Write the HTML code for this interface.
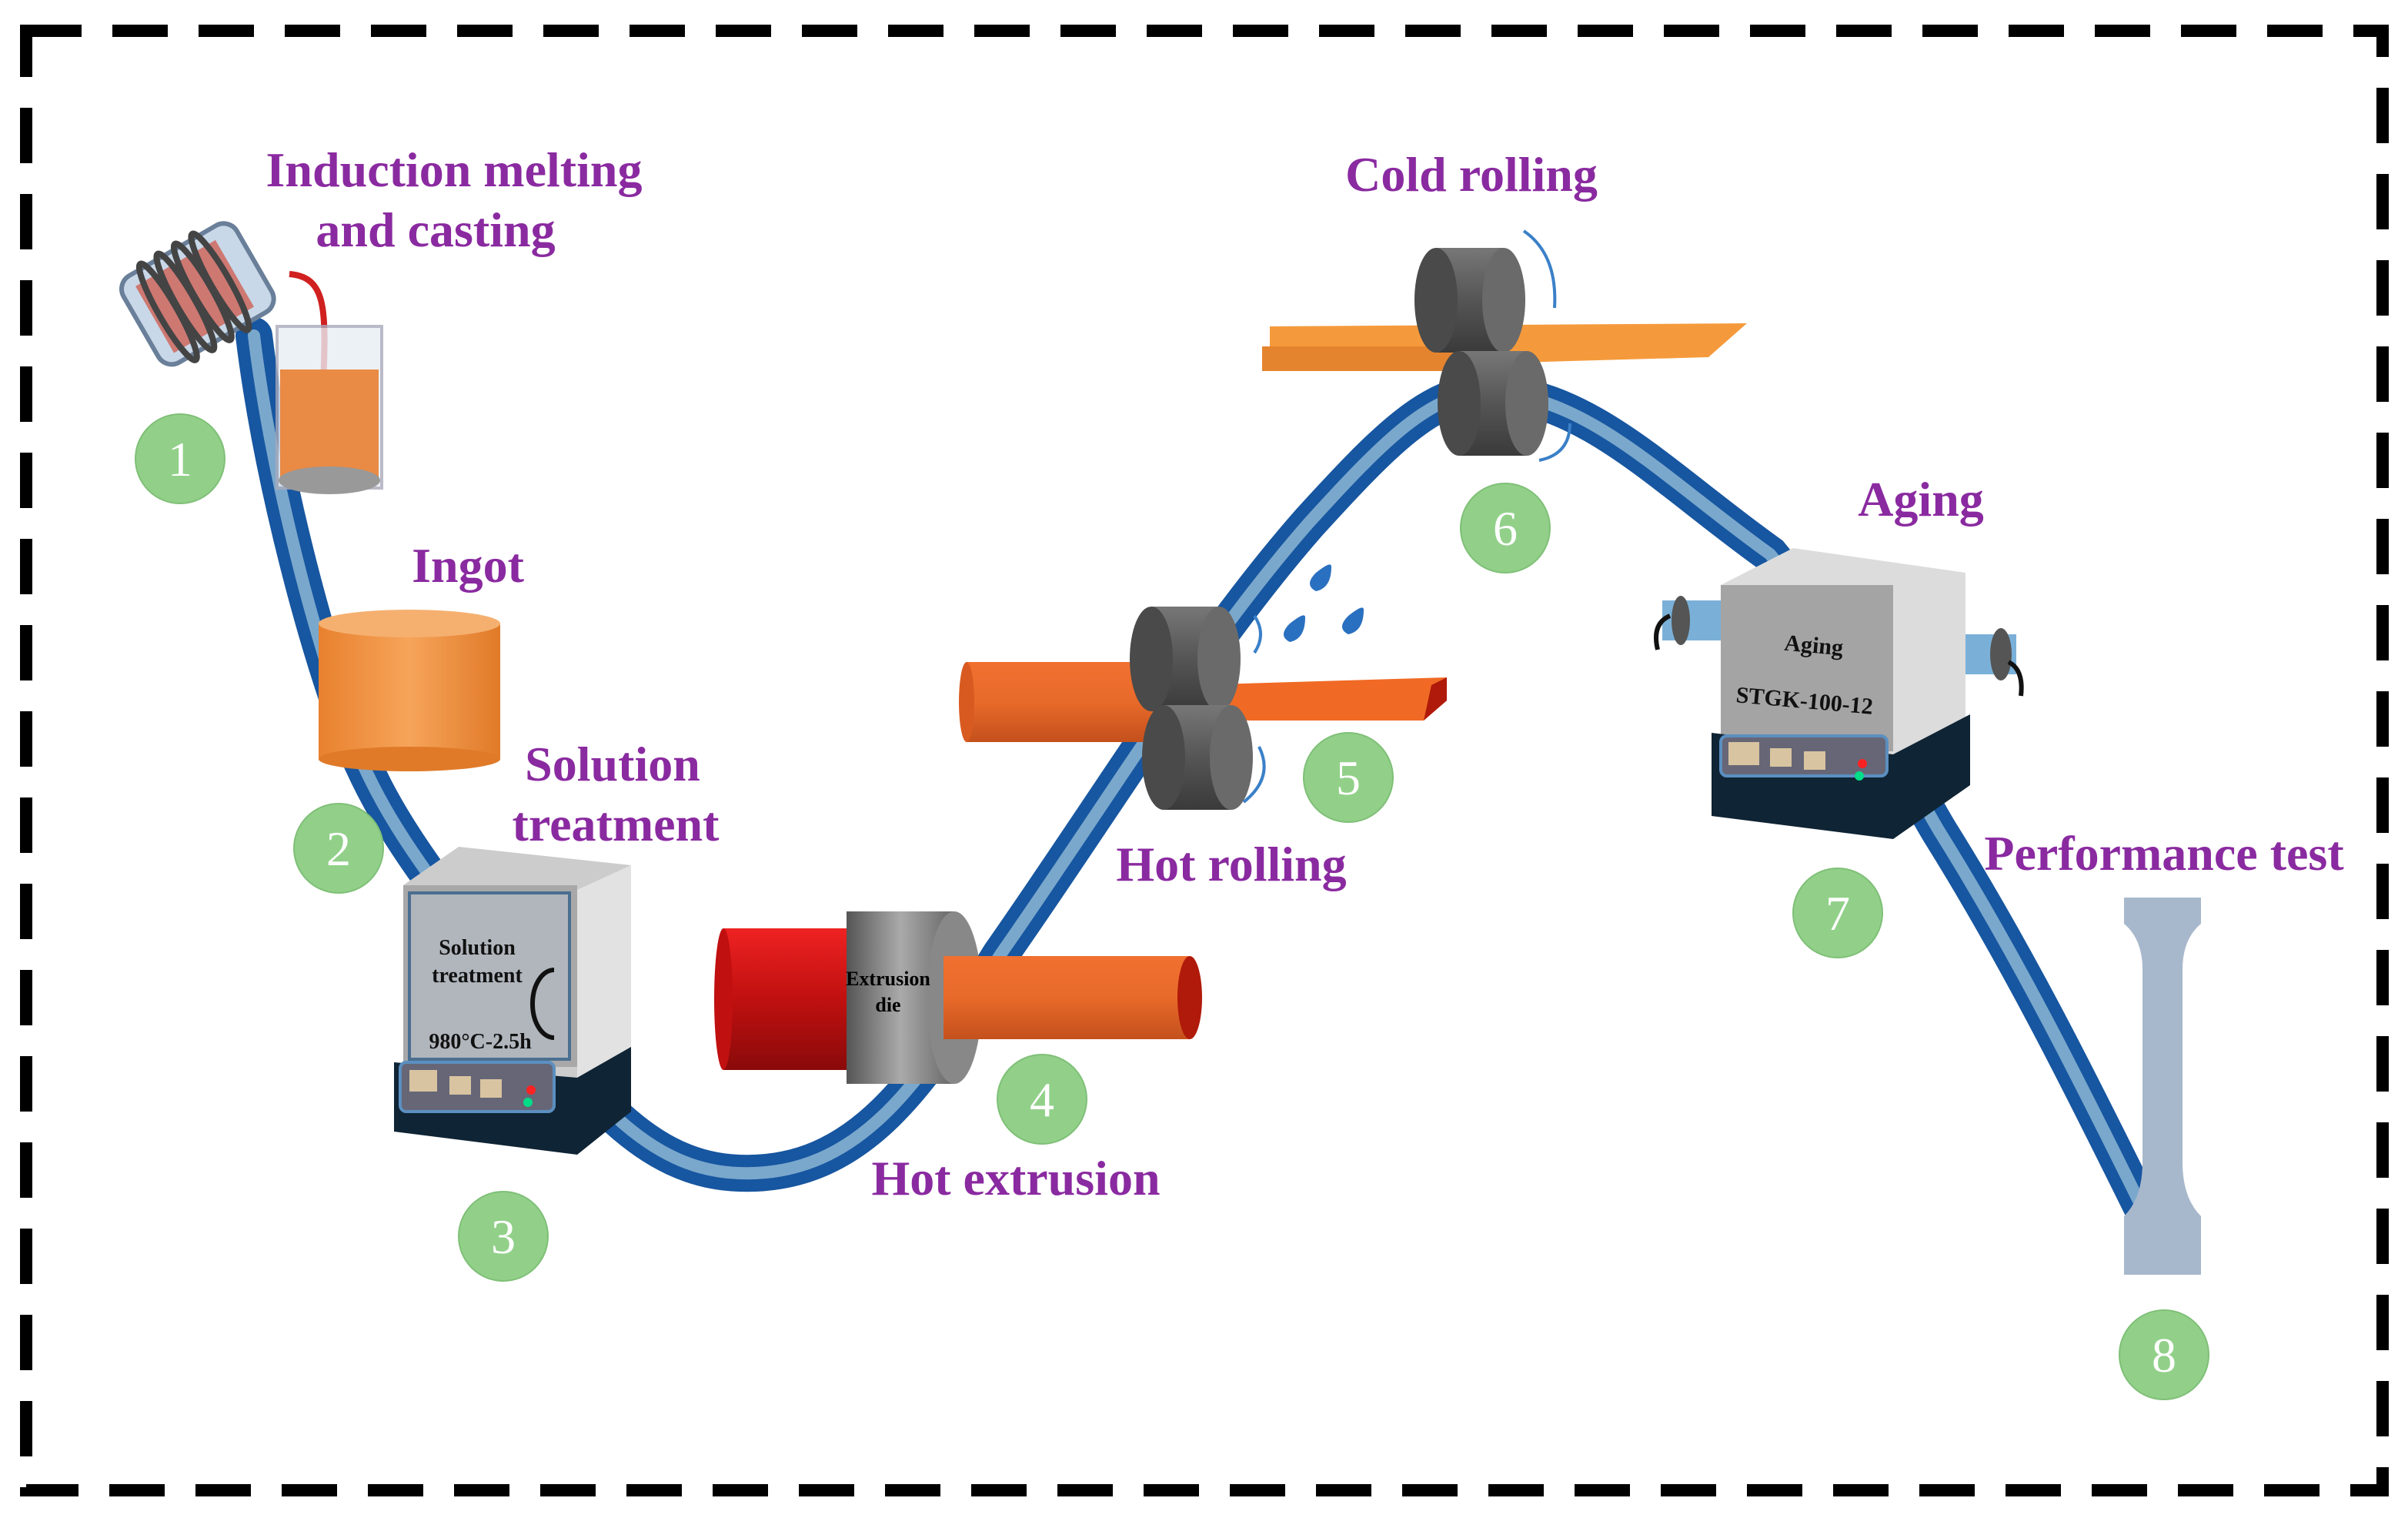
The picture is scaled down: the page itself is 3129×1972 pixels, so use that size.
<!DOCTYPE html>
<html><head><meta charset="utf-8"><style>html,body{margin:0;padding:0;background:#fff}svg{display:block}</style></head>
<body>
<svg width="3129" height="1972" viewBox="0 0 1564.5 986" xmlns="http://www.w3.org/2000/svg">
<defs>
<linearGradient id="org" x1="0" x2="1"><stop offset="0" stop-color="#e8812e"/><stop offset=".5" stop-color="#f6a45a"/><stop offset="1" stop-color="#e07a28"/></linearGradient>
<linearGradient id="rod" x1="0" y1="0" x2="0" y2="1"><stop offset="0" stop-color="#f07030"/><stop offset=".5" stop-color="#e86a2a"/><stop offset="1" stop-color="#c4501c"/></linearGradient>
<linearGradient id="red" x1="0" y1="0" x2="0" y2="1"><stop offset="0" stop-color="#e22"/><stop offset=".5" stop-color="#c01010"/><stop offset="1" stop-color="#8a0a0a"/></linearGradient>
<linearGradient id="rollb" x1="0" y1="0" x2="0" y2="1"><stop offset="0" stop-color="#777"/><stop offset=".5" stop-color="#555"/><stop offset="1" stop-color="#3a3a3a"/></linearGradient>
<linearGradient id="die" x1="0" x2="1"><stop offset="0" stop-color="#555"/><stop offset=".5" stop-color="#aaa"/><stop offset="1" stop-color="#666"/></linearGradient>
<g id="roller"><rect x="-22" y="-34" width="44" height="68" fill="url(#rollb)"/><ellipse cx="-22" cy="0" rx="14" ry="34" fill="#4a4a4a"/><ellipse cx="22" cy="0" rx="14" ry="34" fill="#6a6a6a"/></g>
</defs>
<rect x="17" y="20" width="1531" height="948" fill="none" stroke="#000" stroke-width="8" stroke-dasharray="36 20"/>
<path d="M165,218 C175,300 200,400 225,470 C250,540 290,580 330,640 C380,710 420,760 480,762 C560,765 600,700 650,620 C720,520 780,420 850,340 C900,285 930,255 965,255 C1030,255 1080,310 1150,360 C1200,420 1230,490 1260,540 C1310,620 1350,700 1392,785" fill="none" stroke="#1756a0" stroke-width="24" stroke-linecap="round"/>
<path d="M165,218 C175,300 200,400 225,470 C250,540 290,580 330,640 C380,710 420,760 480,762 C560,765 600,700 650,620 C720,520 780,420 850,340 C900,285 930,255 965,255 C1030,255 1080,310 1150,360 C1200,420 1230,490 1260,540 C1310,620 1350,700 1392,785" fill="none" stroke="#7aa8cc" stroke-width="8" stroke-linecap="round"/>
<g transform="rotate(-30 125 190)"><rect x="85" y="160" width="85" height="65" rx="10" fill="#c8d8e8" stroke="#6a7f99" stroke-width="3"/><rect x="95" y="168" width="60" height="50" fill="#d05040" opacity=".7"/>
<g stroke="#444" stroke-width="4" fill="none"><ellipse cx="105" cy="193" rx="6" ry="36"/><ellipse cx="118" cy="193" rx="6" ry="36"/><ellipse cx="131" cy="193" rx="6" ry="36"/><ellipse cx="144" cy="193" rx="6" ry="36"/></g></g>
<path d="M188,178 C212,180 212,200 210,250" stroke="#d02020" stroke-width="4" fill="none"/>
<rect x="180" y="212" width="68" height="105" fill="#e8eef4" stroke="#aab" stroke-width="2" opacity=".8"/>
<rect x="182" y="240" width="64" height="70" fill="#e98a45"/>
<ellipse cx="214" cy="312" rx="33" ry="9" fill="#999"/>
<rect x="207" y="405" width="118" height="88" fill="url(#org)"/><ellipse cx="266" cy="405" rx="59" ry="9" fill="#f5b070"/><ellipse cx="266" cy="493" rx="59" ry="8" fill="#e07a28"/>
<polygon points="262,575 298,550 410,562 410,690 375,705 262,690" fill="#ccc"/>
<polygon points="375,578 410,562 410,690 375,705" fill="#e2e2e2"/>
<rect x="262" y="575" width="113" height="118" fill="#a8a8a8"/><rect x="266" y="580" width="104" height="108" fill="#b0b6bc" stroke="#4a6f90" stroke-width="2"/>
<polygon points="256,690 375,700 410,680 410,722 375,750 256,735" fill="#0f2434"/>
<rect x="260" y="690" width="100" height="32" rx="4" fill="#667" stroke="#5b8fc0" stroke-width="2"/>
<rect x="266" y="695" width="18" height="14" fill="#d8c4a0"/><rect x="292" y="699" width="14" height="12" fill="#d8c4a0"/><rect x="312" y="701" width="14" height="12" fill="#d8c4a0"/>
<circle cx="345" cy="708" r="3" fill="#f22"/><circle cx="343" cy="716" r="3" fill="#0d8"/>
<path d="M360,630 a14,22 0 0 0 0,44" stroke="#111" stroke-width="3" fill="none"/>
<g font-family="Liberation Serif,serif" font-weight="bold" fill="#111"><text x="310" y="620" font-size="14" text-anchor="middle">Solution</text><text x="310" y="638" font-size="14" text-anchor="middle">treatment</text><text x="312" y="681" font-size="14" text-anchor="middle">980°C-2.5h</text></g>
<rect x="470" y="603" width="90" height="92" fill="url(#red)"/><ellipse cx="470" cy="649" rx="6" ry="46" fill="#c01010"/>
<rect x="550" y="592" width="70" height="112" fill="url(#die)"/><ellipse cx="620" cy="648" rx="18" ry="56" fill="#888"/>
<rect x="613" y="621" width="160" height="54" fill="url(#rod)"/><ellipse cx="773" cy="648" rx="8" ry="27" fill="#b01a0a"/>
<text x="577" y="640" font-family="Liberation Serif,serif" font-weight="bold" font-size="13" text-anchor="middle">Extrusion</text><text x="577" y="657" font-family="Liberation Serif,serif" font-weight="bold" font-size="13" text-anchor="middle">die</text>
<rect x="628" y="430" width="145" height="52" fill="url(#rod)"/><ellipse cx="628" cy="456" rx="5" ry="26" fill="#d85a20"/>
<polygon points="773,445 940,440 940,455 925,468 773,468" fill="#f06a25"/><polygon points="925,468 940,455 940,440 930,445" fill="#b01a0a"/>
<use href="#roller" x="770" y="428"/><use href="#roller" x="778" y="492"/>
<g fill="#2a70c0"><path d="M855,372 q10,-8 10,-4 q0,14 -10,16 q-8,-4 0,-12z"/><path d="M838,405 q10,-8 10,-4 q0,14 -10,16 q-8,-4 0,-12z"/><path d="M876,400 q10,-8 10,-4 q0,14 -10,16 q-8,-4 0,-12z"/></g>
<path d="M815,400 q8,12 0,24 M818,485 q10,20 -10,36" stroke="#3a80c8" stroke-width="2" fill="none"/>
<polygon points="825,212 1135,210 1110,232 825,240" fill="#f59a3c"/><rect x="820" y="225" width="150" height="16" fill="#e5842e"/>
<use href="#roller" x="955" y="195"/><use href="#roller" x="970" y="262"/>
<path d="M990,150 q22,15 20,50 M1020,275 q0,20 -20,24" stroke="#3a80c8" stroke-width="2" fill="none"/>
<rect x="1080" y="390" width="45" height="26" fill="#7ab0d8"/><ellipse cx="1092" cy="403" rx="6" ry="16" fill="#555"/><path d="M1085,400 q-12,5 -8,22" stroke="#111" stroke-width="3" fill="none"/>
<rect x="1270" y="412" width="40" height="26" fill="#7ab0d8"/><ellipse cx="1266" cy="425" rx="8" ry="18" fill="#877"/><ellipse cx="1300" cy="425" rx="7" ry="17" fill="#555"/><path d="M1305,430 q10,5 8,22" stroke="#111" stroke-width="3" fill="none"/>
<polygon points="1118,380 1165,356 1277,372 1277,475 1230,500 1118,486" fill="#dcdcdc"/>
<rect x="1118" y="380" width="112" height="108" fill="#a4a4a4"/>
<polygon points="1112,476 1230,490 1280,464 1280,510 1230,545 1112,530" fill="#0f2434"/>
<rect x="1118" y="478" width="108" height="26" rx="4" fill="#667" stroke="#5b8fc0" stroke-width="2"/>
<rect x="1123" y="482" width="20" height="15" fill="#d8c4a0"/><rect x="1150" y="486" width="14" height="12" fill="#d8c4a0"/><rect x="1172" y="488" width="14" height="12" fill="#d8c4a0"/>
<circle cx="1210" cy="496" r="3" fill="#f22"/><circle cx="1208" cy="504" r="3" fill="#0d8"/>
<g font-family="Liberation Serif,serif" font-weight="bold" fill="#111"><text x="1178" y="424" font-size="15" text-anchor="middle" transform="rotate(5 1178 424)">Aging</text><text x="1172" y="460" font-size="15" text-anchor="middle" transform="rotate(5 1172 460)">STGK-100-12</text></g>
<path d="M1380,583 H1430 V600 Q1418,610 1418,630 V755 Q1418,778 1430,790 V828 H1380 V790 Q1392,778 1392,755 V630 Q1392,610 1380,600Z" fill="#a8b8cc"/>
<g fill="#92d08a" stroke="#7fc077" stroke-width="1">
<circle cx="117" cy="298" r="29"/><circle cx="220" cy="551" r="29"/><circle cx="327" cy="803" r="29"/><circle cx="677" cy="714" r="29"/><circle cx="876" cy="505" r="29"/><circle cx="978" cy="343" r="29"/><circle cx="1194" cy="593" r="29"/><circle cx="1406" cy="880" r="29"/></g>
<g fill="#fff" font-family="Liberation Serif,serif" font-size="32" text-anchor="middle">
<text x="117" y="309">1</text><text x="220" y="562">2</text><text x="327" y="814">3</text><text x="677" y="725">4</text><text x="876" y="516">5</text><text x="978" y="354">6</text><text x="1194" y="604">7</text><text x="1406" y="891">8</text></g>
<g fill="#8a2aa0" font-family="Liberation Serif,serif" font-weight="bold" font-size="32">
<text x="295" y="121" text-anchor="middle">Induction melting</text><text x="283" y="160" text-anchor="middle">and casting</text>
<text x="304" y="378" text-anchor="middle">Ingot</text>
<text x="398" y="507" text-anchor="middle">Solution</text><text x="400" y="546" text-anchor="middle">treatment</text>
<text x="660" y="776" text-anchor="middle">Hot extrusion</text>
<text x="800" y="572" text-anchor="middle">Hot  rolling</text>
<text x="956" y="124" text-anchor="middle">Cold rolling</text>
<text x="1248" y="335" text-anchor="middle">Aging</text>
<text x="1406" y="565" text-anchor="middle">Performance test</text></g>
</svg>
</body></html>
